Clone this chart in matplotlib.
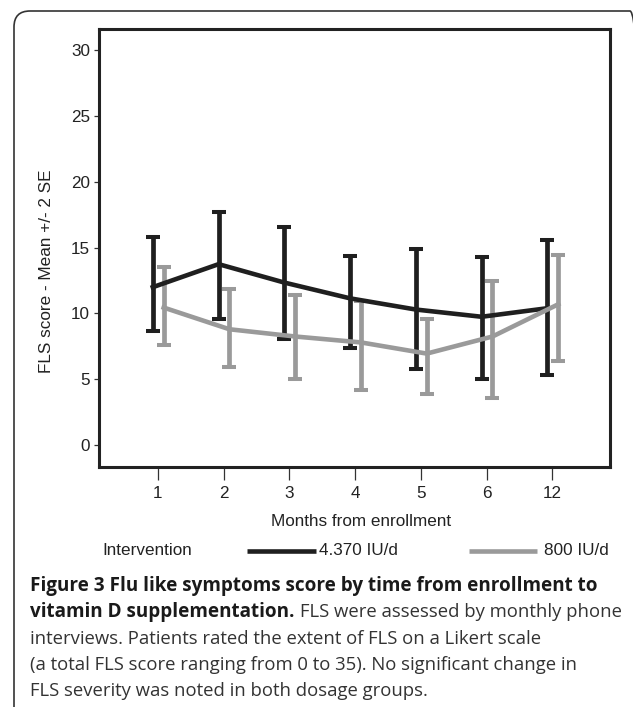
import matplotlib.pyplot as plt
from matplotlib.lines import Line2D
from matplotlib.patches import FancyBboxPatch
from matplotlib.transforms import IdentityTransform

plt.rcParams['font.family'] = ['Liberation Sans', 'DejaVu Sans']

# months from enrollment (categorical axis)
months = ['1', '2', '3', '4', '5', '6', '12']

# 4.370 IU/d group: mean, lower and upper end of the +/- 2 SE bar
high_mean = [12.0, 13.75, 12.35, 11.15, 10.3, 9.75, 10.4]
high_low = [8.65, 9.6, 8.05, 7.35, 5.75, 5.0, 5.3]
high_up = [15.8, 17.7, 16.6, 14.4, 14.9, 14.3, 15.55]

# 800 IU/d group
low_mean = [10.45, 8.8, 8.25, 7.8, 6.95, 8.25, 10.7]
low_low = [7.6, 5.95, 5.0, 4.2, 3.9, 3.6, 6.4]
low_up = [13.55, 11.85, 11.4, 10.95, 9.6, 12.45, 14.45]

DARK = '#1f1f1f'
GREY = '#9a9a9a'

fig = plt.figure(figsize=(6.33, 7.07), dpi=100)

# rounded outer frame of the figure panel
frame = FancyBboxPatch((14, -40), 632, 736, boxstyle='round,pad=0,rounding_size=16',
                       transform=IdentityTransform(), facecolor='none',
                       edgecolor='#333333', linewidth=1.2)
fig.add_artist(frame)

ax = fig.add_axes([0.1564, 0.3395, 0.8073, 0.6195])

pos = list(range(len(months)))
x_high = [p - 0.075 for p in pos]
x_low = [p + 0.09 for p in pos]

ax.errorbar(x_high, high_mean,
            yerr=[[m - l for m, l in zip(high_mean, high_low)],
                  [u - m for m, u in zip(high_mean, high_up)]],
            color=DARK, lw=3.3, elinewidth=3.4, capsize=4.7, capthick=2.9,
            solid_joinstyle='round')
ax.errorbar(x_low, low_mean,
            yerr=[[m - l for m, l in zip(low_mean, low_low)],
                  [u - m for m, u in zip(low_mean, low_up)]],
            color=GREY, lw=3.3, elinewidth=3.4, capsize=4.7, capthick=2.9,
            solid_joinstyle='round')

ax.set_xlim(-0.893, 6.877)
ax.set_ylim(-1.67, 31.63)
ax.set_xticks(pos)
ax.set_xticklabels(months)
ax.set_yticks([0, 5, 10, 15, 20, 25, 30])

for s in ax.spines.values():
    s.set_color('#222222')
    s.set_linewidth(2.2)

ax.tick_params(axis='y', length=3.6, width=0.9, pad=2.9, labelsize=12.3,
               color='#333333', labelcolor='#222222')
ax.tick_params(axis='x', length=9.4, width=0.9, pad=4.3, labelsize=12.3,
               color='#333333', labelcolor='#222222')

fig.text(0.0742, 0.6167, 'FLS score - Mean +/- 2 SE', rotation=90,
         ha='center', va='center', fontsize=12.3, color='#222222')
fig.text(0.571, 0.2617, 'Months from enrollment', ha='center', va='center',
         fontsize=12.3, color='#222222')

# legend row
ly = 0.2207
fig.text(0.161, ly, 'Intervention', ha='left', va='center', fontsize=12.3, color='#222222')
fig.add_artist(Line2D([0.390, 0.499], [ly, ly], transform=fig.transFigure,
                      color=DARK, lw=3.3, solid_capstyle='butt'))
fig.text(0.504, ly, '4.370 IU/d', ha='left', va='center', fontsize=12.3, color='#222222')
fig.add_artist(Line2D([0.741, 0.849], [ly, ly], transform=fig.transFigure,
                      color=GREY, lw=3.3, solid_capstyle='butt'))
fig.text(0.860, ly, '800 IU/d', ha='left', va='center', fontsize=12.3, color='#222222')

# caption
cap_font = ['Open Sans', 'DejaVu Sans']
cx = 30 / 633
baselines = [591, 617, 644, 670, 696]
cy = [(707 - b) / 707 for b in baselines]
bsize = 13.6
rsize = 13.3

fig.text(cx, cy[0], 'Figure 3 Flu like symptoms score by time from enrollment to',
         family=cap_font, fontweight='bold', fontsize=bsize, color='#1a1a1a', va='baseline')
bold2 = fig.text(cx, cy[1], 'vitamin D supplementation.', family=cap_font,
                 fontweight='bold', fontsize=bsize, color='#1a1a1a', va='baseline')
r = fig.canvas.get_renderer()
bb = bold2.get_window_extent(r)
fig.text(bb.x1 / fig.bbox.width + 5 / 633, cy[1], 'FLS were assessed by monthly phone',
         family=cap_font, fontsize=rsize, color='#333333', va='baseline')
fig.text(cx, cy[2], 'interviews. Patients rated the extent of FLS on a Likert scale',
         family=cap_font, fontsize=rsize, color='#333333', va='baseline')
fig.text(cx, cy[3], '(a total FLS score ranging from 0 to 35). No significant change in',
         family=cap_font, fontsize=rsize, color='#333333', va='baseline')
fig.text(cx, cy[4], 'FLS severity was noted in both dosage groups.',
         family=cap_font, fontsize=rsize, color='#333333', va='baseline')

fig.savefig('out.png', dpi=100)
